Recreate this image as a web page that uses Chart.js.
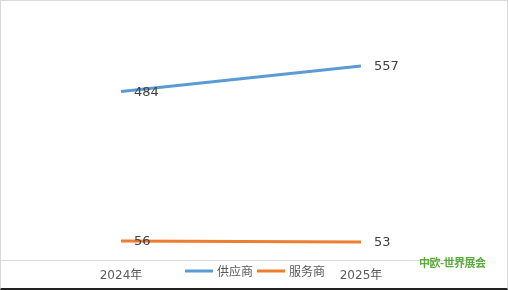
<!DOCTYPE html>
<html>
<head>
<meta charset="utf-8">
<script src="https://cdn.jsdelivr.net/npm/chart.js@4"></script>
<style>
  html, body { margin: 0; padding: 0; background: #fff; }
  #wrap {
    position: relative;
    width: 508px; height: 290px;
    box-sizing: border-box;
    border: 1px solid #d9d9d9;
    border-bottom: 2px solid #222;
  }
  #chart { position: absolute; left: 0; top: 0; }
  #logo {
    position: absolute; left: 418px; top: 253px;
    font: bold 11px "Noto Sans CJK SC", sans-serif;
    color: #5aab3c; letter-spacing: -0.5px;
  }
</style>
</head>
<body>
<div id="wrap">
  <canvas id="chart" width="506" height="287"></canvas>
  <div id="logo">中欧-世界展会</div>
</div>
<script>
const years = ['2024年', '2025年'];
const supplierValues = [484, 557];
const serviceValues = [56, 53];
const seriesNames = ['供应商', '服务商'];

const FONT = 'DejaVu Sans, "Noto Sans CJK SC", sans-serif';

// value labels to the right of each point
const valueLabels = {
	id: 'valueLabels',
	afterDatasetsDraw(chart) {
		const ctx = chart.ctx;
		ctx.save();
		ctx.font = '13px ' + FONT;
		ctx.fillStyle = '#404040';
		ctx.textBaseline = 'middle';
		chart.data.datasets.forEach((ds, i) => {
			const meta = chart.getDatasetMeta(i);
			meta.data.forEach((pt, j) => {
				ctx.fillText(ds.data[j], pt.x + 13, pt.y + 1);
			});
		});
		ctx.restore();
	}
};

// legend drawn in the tick row, like the excel original
const bottomLegend = {
	id: 'bottomLegend',
	afterDraw(chart) {
		const ctx = chart.ctx;
		ctx.save();
		ctx.font = '12px "Noto Sans CJK SC", sans-serif';
		ctx.textBaseline = 'middle';
		const y = 270;
		let x = 184;
		chart.data.datasets.forEach(ds => {
			ctx.strokeStyle = ds.borderColor;
			ctx.lineWidth = 3;
			ctx.beginPath();
			ctx.moveTo(x, y);
			ctx.lineTo(x + 28, y);
			ctx.stroke();
			ctx.fillStyle = '#595959';
			ctx.fillText(ds.label, x + 32, y);
			x += 32 + ctx.measureText(ds.label).width + 4;
		});
		ctx.restore();
	}
};

new Chart('chart', {
	type: 'line',
	data: {
		labels: years,
		datasets: [{
			label: seriesNames[0],
			data: supplierValues,
			borderColor: '#5b9bd5',
			borderWidth: 3,
			pointRadius: 0,
			tension: 0,
		}, {
			label: seriesNames[1],
			data: serviceValues,
			borderColor: '#ed7d31',
			borderWidth: 3,
			pointRadius: 0,
			tension: 0,
		}]
	},
	options: {
		responsive: false,
		animation: false,
		layout: { padding: { left: 0, right: 26, top: 50, bottom: -3 } },
		plugins: {
			legend: { display: false },
			tooltip: { enabled: false }
		},
		scales: {
			x: {
				offset: true,
				grid: { display: false, drawTicks: false },
				border: { display: true, color: '#d9d9d9', width: 1 },
				ticks: {
					color: '#595959',
					font: { size: 12, family: FONT },
					padding: 8
				}
			},
			y: {
				display: false,
				min: 0,
				max: 600
			}
		}
	},
	plugins: [valueLabels, bottomLegend]
});
</script>
</body>
</html>
